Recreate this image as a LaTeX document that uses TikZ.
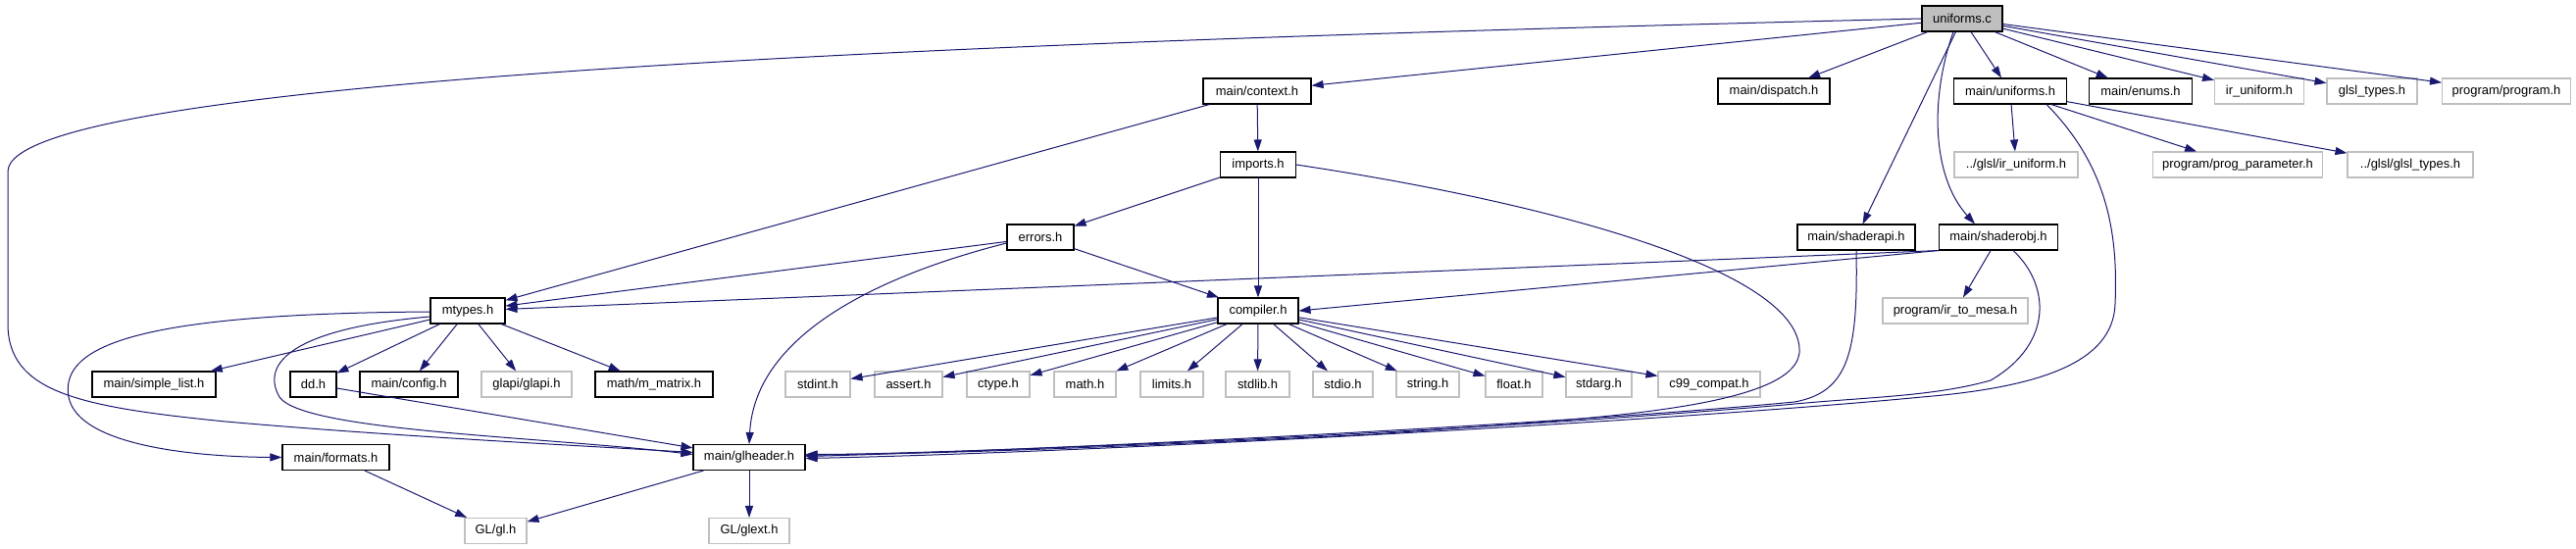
\documentclass[tikz,border=0pt]{standalone}
\usepackage{fontspec}
\setmainfont{Liberation Sans}
\usepackage{xcolor}
\usepackage{tikz}
\usetikzlibrary{arrows.meta,calc}
\definecolor{DOXnavy}{HTML}{191970}
\definecolor{DOXgrey}{HTML}{BFBFBF}
\tikzset{
  hdrbox/.style={draw=black, fill=white, line width=0.8pt, minimum height=19.5pt, inner sep=0pt, font=\fontsize{9.7}{11}\selectfont, text=black},
  extbox/.style={hdrbox, draw=DOXgrey},
  srcbox/.style={hdrbox, fill=DOXgrey},
  incarr/.style={-{Triangle[length=9pt,width=6pt]}, draw=DOXnavy, line width=0.75pt}
}

\begin{document}
\begin{tikzpicture}[x=0.75pt, y=-0.75pt]
\useasboundingbox (0,0) rectangle (2627,560);
\node[srcbox, minimum width=61.5pt] (unic) at (2001,19) {uniforms.c};
\node[hdrbox, minimum width=82.5pt] (ctx) at (1282,93) {main/context.h};
\node[hdrbox, minimum width=85.5pt] (disp) at (1809,93) {main/dispatch.h};
\node[hdrbox, minimum width=86.25pt] (unih) at (2050,93) {main/uniforms.h};
\node[hdrbox, minimum width=78.75pt] (enums) at (2183,93) {main/enums.h};
\node[extbox, minimum width=68.25pt] (iruni) at (2304,93) {ir\_uniform.h};
\node[extbox, minimum width=69pt] (glslt) at (2419,93) {glsl\_types.h};
\node[extbox, minimum width=98.25pt] (prog) at (2556,93) {program/program.h};
\node[hdrbox, minimum width=57.75pt] (imports) at (1283,168) {imports.h};
\node[extbox, minimum width=94.5pt] (glirun) at (2056,168) {../glsl/ir\_uniform.h};
\node[extbox, minimum width=129.75pt] (progpar) at (2282,168) {program/prog\_parameter.h};
\node[extbox, minimum width=96pt] (glglslt) at (2458,168) {../glsl/glsl\_types.h};
\node[hdrbox, minimum width=51pt] (errors) at (1061,242) {errors.h};
\node[hdrbox, minimum width=90pt] (sapi) at (1893,242) {main/shaderapi.h};
\node[hdrbox, minimum width=90.75pt] (sobj) at (2038,242) {main/shaderobj.h};
\node[hdrbox, minimum width=57pt] (mtypes) at (477,317) {mtypes.h};
\node[hdrbox, minimum width=61.5pt] (compiler) at (1283,317) {compiler.h};
\node[extbox, minimum width=111pt] (irmesa) at (1994,317) {program/ir\_to\_mesa.h};
\node[hdrbox, minimum width=94.5pt] (slist) at (157,392) {main/simple\_list.h};
\node[hdrbox, minimum width=35.25pt] (dd) at (319.5,392) {dd.h};
\node[hdrbox, minimum width=75pt] (config) at (417,392) {main/config.h};
\node[extbox, minimum width=69pt] (glapi) at (537,392) {glapi/glapi.h};
\node[hdrbox, minimum width=90pt] (mmatrix) at (667,392) {math/m\_matrix.h};
\node[extbox, minimum width=49.5pt] (stdint) at (834,392) {stdint.h};
\node[extbox, minimum width=51.75pt] (assert) at (926.5,392) {assert.h};
\node[extbox, minimum width=48pt] (ctype) at (1018,392) {ctype.h};
\node[extbox, minimum width=47.25pt] (mathh) at (1106.5,392) {math.h};
\node[extbox, minimum width=48pt] (limits) at (1195,392) {limits.h};
\node[extbox, minimum width=48.75pt] (stdlib) at (1282.5,392) {stdlib.h};
\node[extbox, minimum width=45.75pt] (stdio) at (1369.5,392) {stdio.h};
\node[extbox, minimum width=48pt] (string) at (1456,392) {string.h};
\node[extbox, minimum width=43.5pt] (float) at (1544,392) {float.h};
\node[extbox, minimum width=50.25pt] (stdarg) at (1630.5,392) {stdarg.h};
\node[extbox, minimum width=78pt] (cnn) at (1743,392) {c99\_compat.h};
\node[hdrbox, minimum width=81.75pt] (formats) at (342.5,466.5) {main/formats.h};
\node[hdrbox, minimum width=85.5pt] (glheader) at (764,466.5) {main/glheader.h};
\node[extbox, minimum width=47.25pt] (glh) at (505.5,541.5) {GL/gl.h};
\node[extbox, minimum width=61.5pt] (glext) at (764,541.5) {GL/glext.h};
\draw[incarr] (unic.west) .. controls (1100,40) and (8,75) .. (8,175) -- (8,330) .. controls (8,400) and (80,415) .. (230,430) .. controls (400,445) and (600,455) .. ($(glheader.west)+(0,-5)$);
\draw[incarr] (unic) -- (ctx);
\draw[incarr] (unic) -- (disp);
\draw[incarr] (unic) -- (sapi);
\draw[incarr] ($(unic.south)+(-9,0)$) .. controls (1968,100) and (1970,180) .. ($(sobj.north)+(-24,0)$);
\draw[incarr] (unic) -- (unih);
\draw[incarr] (unic) -- (enums);
\draw[incarr] (unic) -- (iruni);
\draw[incarr] (unic) -- (glslt);
\draw[incarr] (unic) -- (prog);
\draw[incarr] (ctx) -- (mtypes);
\draw[incarr] (ctx) -- (imports);
\draw[incarr] (imports) -- (errors);
\draw[incarr] (imports) -- (compiler);
\draw[incarr] (imports.east) .. controls (1600,210) and (1840,280) .. (1835,360) .. controls (1828,420) and (1600,428) .. (1400,443) .. controls (1100,458) and (950,463) .. ($(glheader.east)+(0,-3)$);
\draw[incarr] (errors) -- (mtypes);
\draw[incarr] (errors) -- (compiler);
\draw[incarr] ($(errors.west)+(0,6)$) .. controls (900,280) and (770,340) .. (glheader.north);
\draw[incarr] (unih) -- (glirun);
\draw[incarr] (unih) -- (progpar);
\draw[incarr] (unih) -- (glglslt);
\draw[incarr] ($(unih.south)+(37,0)$) .. controls (2150,170) and (2160,240) .. (2157,310) .. controls (2155,370) and (2080,395) .. (1960,405) .. controls (1700,430) and (1100,462) .. ($(glheader.east)+(0,1)$);
\draw[incarr] (sapi.south) .. controls (1895,360) and (1885,400) .. (1830,410) .. controls (1600,432) and (1100,458) .. ($(glheader.east)+(0,-1)$);
\draw[incarr] (sobj.south west) -- (mtypes);
\draw[incarr] (sobj.south west) -- (compiler.east);
\draw[incarr] (sobj) -- (irmesa);
\draw[incarr] ($(sobj.south)+(15,0)$) .. controls (2090,290) and (2095,350) .. (2030,388) .. controls (1970,405) and (1900,405) .. (1820,413) .. controls (1500,440) and (1100,458) .. ($(glheader.east)+(0,-2)$);
\draw[incarr] (compiler) -- (stdint);
\draw[incarr] (compiler) -- (assert);
\draw[incarr] (compiler) -- (ctype);
\draw[incarr] (compiler) -- (mathh);
\draw[incarr] (compiler) -- (limits);
\draw[incarr] (compiler) -- (stdlib);
\draw[incarr] (compiler) -- (stdio);
\draw[incarr] (compiler) -- (string);
\draw[incarr] (compiler) -- (float);
\draw[incarr] (compiler) -- (stdarg);
\draw[incarr] (compiler) -- (cnn);
\draw[incarr] (mtypes) -- (slist);
\draw[incarr] (mtypes) -- (dd);
\draw[incarr] (mtypes) -- (config);
\draw[incarr] (mtypes) -- (glapi);
\draw[incarr] (mtypes) -- (mmatrix);
\draw[incarr] ($(mtypes.west)+(0,1)$) .. controls (150,320) and (60,350) .. (70,405) .. controls (80,455) and (200,466) .. (formats.west);
\draw[incarr] ($(mtypes.west)+(0,6)$) .. controls (300,335) and (265,370) .. (285,405) .. controls (310,440) and (550,445) .. ($(glheader.west)+(0,-3)$);
\draw[incarr] (dd) -- (glheader);
\draw[incarr] (formats) -- (glh);
\draw[incarr] (glheader) -- (glh);
\draw[incarr] (glheader) -- (glext);
\end{tikzpicture}
\end{document}
